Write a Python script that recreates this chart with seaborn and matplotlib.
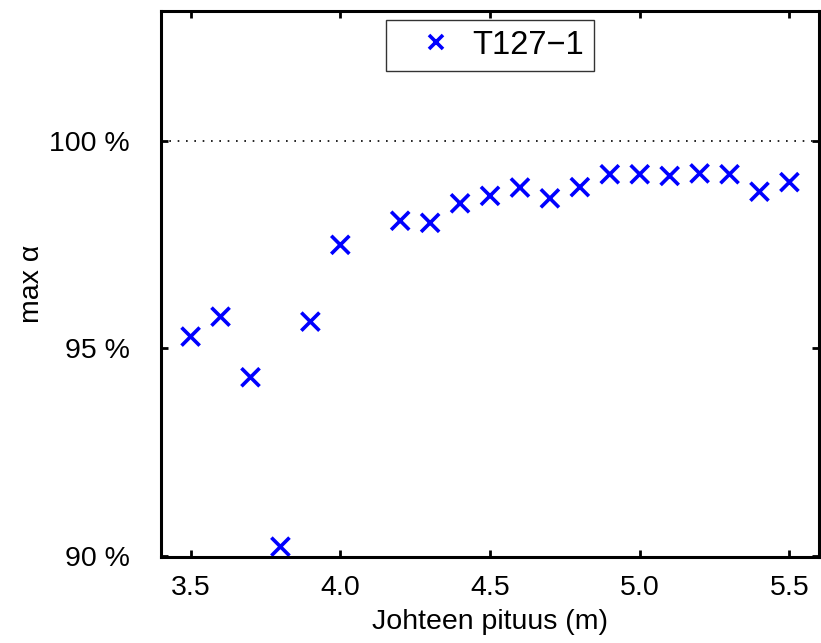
import pandas as pd
import matplotlib.pyplot as plt
import seaborn as sns
from matplotlib.ticker import FuncFormatter

# conductor length (m) and max alpha (%)
lengths = [3.5, 3.6, 3.7, 3.8, 3.9, 4.0, 4.2, 4.3, 4.4, 4.5, 4.6,
           4.7, 4.8, 4.9, 5.0, 5.1, 5.2, 5.3, 5.4, 5.5]
max_alpha = [95.28, 95.76, 94.30, 90.22, 95.64, 97.49, 98.07, 98.02, 98.49, 98.67, 98.87,
             98.61, 98.88, 99.19, 99.19, 99.15, 99.21, 99.19, 98.77, 99.00]
series_name = 'T127\u22121'
x_ticks = [3.5, 4.0, 4.5, 5.0, 5.5]
y_ticks = [90, 95, 100]

df = pd.DataFrame({'length': lengths, 'alpha': max_alpha, 'series': series_name})

sns.set_style('ticks')
plt.rcParams['font.family'] = ['Liberation Sans', 'DejaVu Sans']
for key in ['text.color', 'axes.labelcolor', 'xtick.color', 'ytick.color', 'axes.edgecolor']:
    plt.rcParams[key] = 'black'

fig = plt.figure(figsize=(8.21, 6.43), dpi=100)
ax = fig.add_axes([0.1957, 0.1337, 0.8023, 0.8497])

sns.scatterplot(data=df, x='length', y='alpha', hue='series', palette=['#0000ff'],
                marker='x', s=170, linewidth=2.6, ax=ax)

ax.axhline(100, color='black', linestyle=(0, (1, 4)), linewidth=1.2)

ax.set_xlim(3.4, 5.6)
ax.set_ylim(89.97, 103.13)
ax.set_xticks(x_ticks)
ax.set_yticks(y_ticks)
ax.xaxis.set_major_formatter(FuncFormatter(lambda v, p: f'{v:.1f}'))
ax.yaxis.set_major_formatter(FuncFormatter(lambda v, p: f'{v:.0f} %'))
ax.tick_params(direction='in', length=5, width=2, labelsize=20.5,
               top=True, right=True)
ax.tick_params(axis='x', pad=13)
ax.tick_params(axis='y', pad=22)
for sp in ax.spines.values():
    sp.set_linewidth(2.2)
    sp.set_visible(True)

ax.set_xlabel('Johteen pituus (m)', fontsize=20.5, labelpad=6)
ax.set_ylabel('max \u03b1', fontsize=20.5, labelpad=3)

leg = ax.legend(loc='upper center', bbox_to_anchor=(0.5, 0.983), fontsize=23.5,
                frameon=True, fancybox=False, edgecolor='black', handletextpad=-0.1,
                borderpad=0.3, borderaxespad=0, handlelength=2.45, markerscale=0.75)
leg.get_frame().set_linewidth(1.0)

plt.savefig('out.png', dpi=100)
plt.close()
